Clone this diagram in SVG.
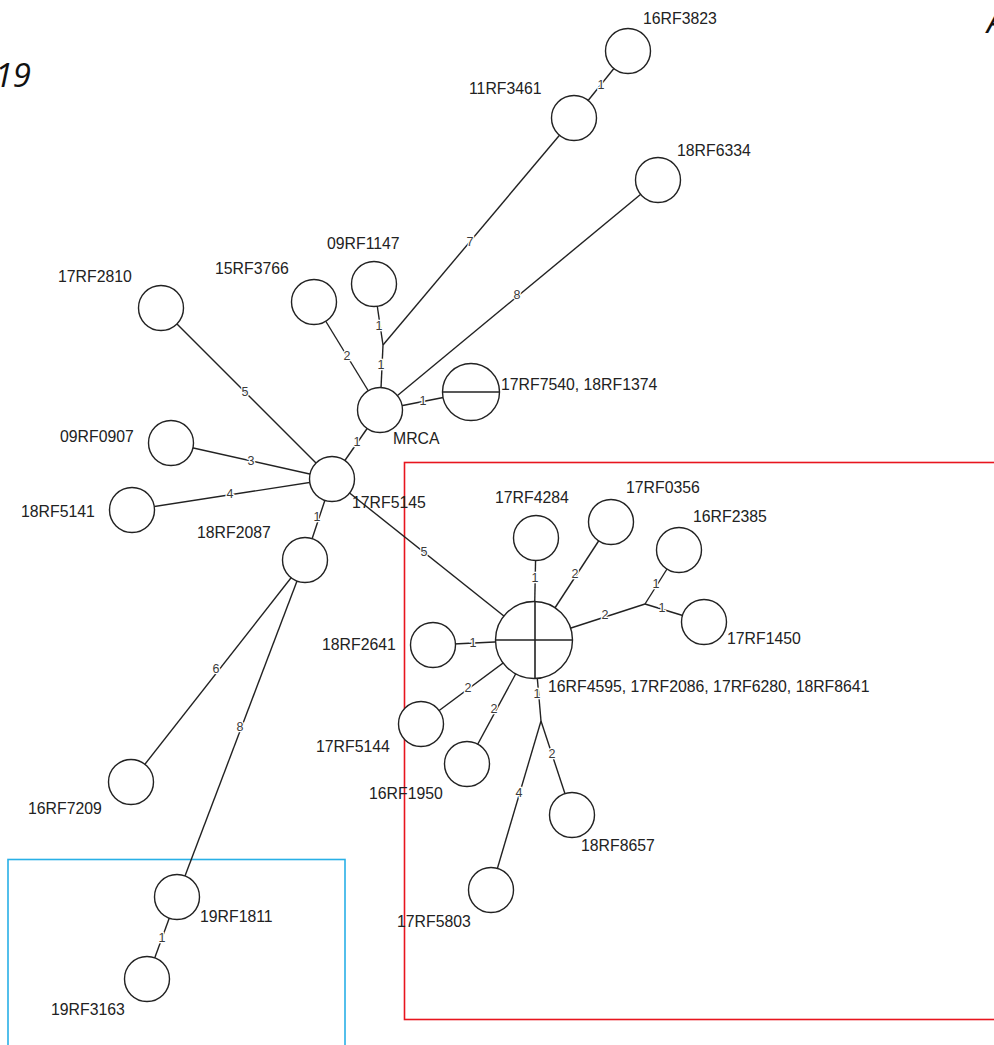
<svg xmlns="http://www.w3.org/2000/svg" width="994" height="1045" viewBox="0 0 994 1045">
<style>
.e{stroke:#222;stroke-width:1.4;fill:none}
.n{fill:#fff;stroke:#222;stroke-width:1.4}
.x{stroke:#222;stroke-width:1.6}
.t{font-family:"Liberation Sans",Arial,sans-serif;font-size:15.8px;fill:#222}
.w{font-family:"Liberation Sans",Arial,sans-serif;font-size:12.5px;fill:#3a3a3a;text-anchor:middle;dominant-baseline:central;stroke:#fff;stroke-width:2.5;paint-order:stroke}
.h{font-family:"Open Sans","DejaVu Sans",sans-serif;font-style:italic;font-size:33px;fill:#111}
</style>
<rect width="994" height="1045" fill="#fff"/>
<g id="frames">
<rect x="404.5" y="462.5" width="620" height="557" fill="none" stroke="#e8151e" stroke-width="1.6"/>
<rect x="8" y="859.5" width="337" height="220" fill="none" stroke="#29b0e6" stroke-width="1.6"/>
</g>
<text class="h" x="31" y="87" text-anchor="end">19</text>
<text class="h" x="987" y="33">A</text>
<g id="connectors">
<line class="e" x1="574" y1="118" x2="628" y2="51"/>
<line class="e" x1="383" y1="345" x2="574" y2="118"/>
<line class="e" x1="383" y1="345" x2="374" y2="284"/>
<line class="e" x1="380" y1="410" x2="383" y2="345"/>
<line class="e" x1="380" y1="410" x2="658" y2="180"/>
<line class="e" x1="380" y1="410" x2="314" y2="302"/>
<line class="e" x1="380" y1="410" x2="471" y2="392"/>
<line class="e" x1="380" y1="410" x2="332" y2="479"/>
<line class="e" x1="332" y1="479" x2="161" y2="308"/>
<line class="e" x1="332" y1="479" x2="171" y2="443"/>
<line class="e" x1="332" y1="479" x2="132" y2="510"/>
<line class="e" x1="332" y1="479" x2="305" y2="560"/>
<line class="e" x1="332" y1="479" x2="534" y2="640"/>
<line class="e" x1="305" y1="560" x2="131" y2="782"/>
<line class="e" x1="305" y1="560" x2="177" y2="897"/>
<line class="e" x1="177" y1="897" x2="147" y2="979"/>
<line class="e" x1="534" y1="640" x2="536" y2="538"/>
<line class="e" x1="534" y1="640" x2="611" y2="522"/>
<line class="e" x1="534" y1="640" x2="645" y2="604"/>
<line class="e" x1="645" y1="604" x2="679" y2="550"/>
<line class="e" x1="645" y1="604" x2="704" y2="622"/>
<line class="e" x1="534" y1="640" x2="433" y2="645"/>
<line class="e" x1="534" y1="640" x2="421" y2="724"/>
<line class="e" x1="534" y1="640" x2="467" y2="764"/>
<line class="e" x1="534" y1="640" x2="541" y2="721"/>
<line class="e" x1="541" y1="721" x2="572" y2="815"/>
<line class="e" x1="541" y1="721" x2="491" y2="890"/>
<text class="w" x="601" y="85">1</text>
<text class="w" x="470" y="242">7</text>
<text class="w" x="379" y="326">1</text>
<text class="w" x="381" y="365">1</text>
<text class="w" x="517" y="295">8</text>
<text class="w" x="347" y="356">2</text>
<text class="w" x="423" y="401">1</text>
<text class="w" x="357" y="442">1</text>
<text class="w" x="245" y="392">5</text>
<text class="w" x="251" y="461">3</text>
<text class="w" x="230" y="494">4</text>
<text class="w" x="317" y="517">1</text>
<text class="w" x="424" y="552">5</text>
<text class="w" x="216" y="669">6</text>
<text class="w" x="240" y="727">8</text>
<text class="w" x="162" y="938">1</text>
<text class="w" x="535" y="578">1</text>
<text class="w" x="575" y="574">2</text>
<text class="w" x="605" y="615">2</text>
<text class="w" x="656" y="584">1</text>
<text class="w" x="662" y="608">1</text>
<text class="w" x="473" y="643">1</text>
<text class="w" x="468" y="688">2</text>
<text class="w" x="494" y="709">2</text>
<text class="w" x="537" y="694">1</text>
<text class="w" x="552" y="754">2</text>
<text class="w" x="519" y="793">4</text>
</g>
<g id="n16RF3823"><circle class="n" cx="628" cy="51" r="22.5"/><text class="t" x="643" y="24">16RF3823</text></g>
<g id="n11RF3461"><circle class="n" cx="574" cy="118" r="22.5"/><text class="t" x="469" y="94">11RF3461</text></g>
<g id="n18RF6334"><circle class="n" cx="658" cy="180" r="22.5"/><text class="t" x="677" y="156">18RF6334</text></g>
<g id="n09RF1147"><circle class="n" cx="374" cy="284" r="22.5"/><text class="t" x="327" y="249">09RF1147</text></g>
<g id="n15RF3766"><circle class="n" cx="314" cy="302" r="22.5"/><text class="t" x="215" y="274">15RF3766</text></g>
<g id="n17RF2810"><circle class="n" cx="161" cy="308" r="22.5"/><text class="t" x="58" y="282">17RF2810</text></g>
<g id="nMRCA"><circle class="n" cx="380" cy="410" r="22.5"/><text class="t" x="393" y="444">MRCA</text></g>
<g id="n17RF7540"><circle class="n" cx="471" cy="392" r="28.5"/><line class="x" x1="442.5" y1="392" x2="499.5" y2="392"/><text class="t" x="501" y="390">17RF7540, 18RF1374</text></g>
<g id="n09RF0907"><circle class="n" cx="171" cy="443" r="22.5"/><text class="t" x="60" y="442">09RF0907</text></g>
<g id="n17RF5145"><circle class="n" cx="332" cy="479" r="22.5"/><text class="t" x="352" y="508">17RF5145</text></g>
<g id="n18RF5141"><circle class="n" cx="132" cy="510" r="22.5"/><text class="t" x="21" y="517">18RF5141</text></g>
<g id="n18RF2087"><circle class="n" cx="305" cy="560" r="22.5"/><text class="t" x="197" y="538">18RF2087</text></g>
<g id="n16RF7209"><circle class="n" cx="131" cy="782" r="22.5"/><text class="t" x="28" y="814">16RF7209</text></g>
<g id="n19RF1811"><circle class="n" cx="177" cy="897" r="22.5"/><text class="t" x="200" y="922">19RF1811</text></g>
<g id="n19RF3163"><circle class="n" cx="147" cy="979" r="22.5"/><text class="t" x="51" y="1015">19RF3163</text></g>
<g id="nHub"><circle class="n" cx="534" cy="640" r="38.5"/><line class="x" x1="495.5" y1="640" x2="572.5" y2="640"/><line class="x" x1="535" y1="601.5" x2="535" y2="678.5"/><text class="t" x="548" y="692">16RF4595, 17RF2086, 17RF6280, 18RF8641</text></g>
<g id="n17RF4284"><circle class="n" cx="536" cy="538" r="22.5"/><text class="t" x="495" y="503">17RF4284</text></g>
<g id="n17RF0356"><circle class="n" cx="611" cy="522" r="22.5"/><text class="t" x="626" y="493">17RF0356</text></g>
<g id="n16RF2385"><circle class="n" cx="679" cy="550" r="22.5"/><text class="t" x="693" y="522">16RF2385</text></g>
<g id="n17RF1450"><circle class="n" cx="704" cy="622" r="22.5"/><text class="t" x="727" y="644">17RF1450</text></g>
<g id="n18RF2641"><circle class="n" cx="433" cy="645" r="22.5"/><text class="t" x="322" y="650">18RF2641</text></g>
<g id="n17RF5144"><circle class="n" cx="421" cy="724" r="22.5"/><text class="t" x="316" y="752">17RF5144</text></g>
<g id="n16RF1950"><circle class="n" cx="467" cy="764" r="22.5"/><text class="t" x="369" y="799">16RF1950</text></g>
<g id="n18RF8657"><circle class="n" cx="572" cy="815" r="22.5"/><text class="t" x="581" y="851">18RF8657</text></g>
<g id="n17RF5803"><circle class="n" cx="491" cy="890" r="22.5"/><text class="t" x="397" y="927">17RF5803</text></g>
</svg>
